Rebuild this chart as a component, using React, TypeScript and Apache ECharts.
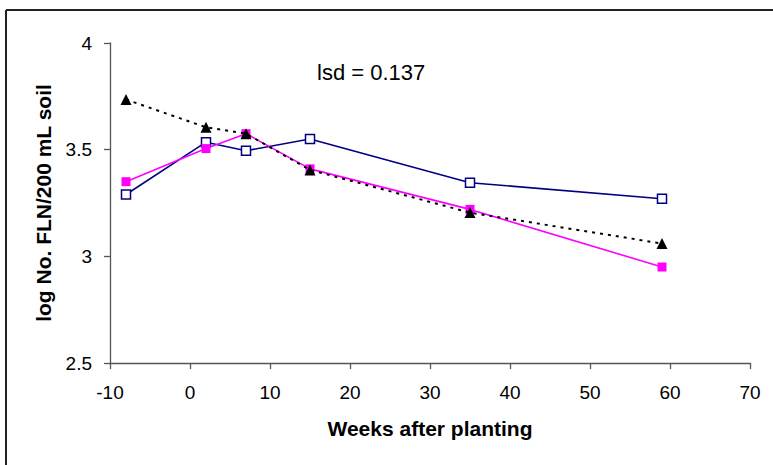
import React, { useEffect, useRef } from "react";
import * as echarts from "echarts";

// Weeks after planting (x) and log counts per 200 mL soil for each treatment
const weeks = [-8, 2, 7, 15, 35, 59];
const navySeries = [3.29, 3.535, 3.495, 3.55, 3.345, 3.27];
const magentaSeries = [3.35, 3.505, 3.575, 3.41, 3.22, 2.95];
const blackSeries = [3.735, 3.605, 3.575, 3.405, 3.205, 3.06];

const xTicks = { min: -10, max: 70, interval: 10 };
const yTicks = { min: 2.5, max: 4, interval: 0.5 };

const lsdLabel = "lsd = 0.137";
const xTitle = "Weeks after planting";
const yTitle = "log No. FLN/200 mL soil";

const FONT = "'Liberation Sans', Arial, sans-serif";

const pairs = (ys: number[]) => weeks.map((w, i) => [w, ys[i]]);

export default function App() {
  const ref = useRef<HTMLDivElement>(null);

  useEffect(() => {
    if (!ref.current) return;
    const chart = echarts.init(ref.current, undefined, { renderer: "svg" });
    const axisColor = "#555";
    chart.setOption({
      animation: false,
      backgroundColor: "#fff",
      textStyle: { fontFamily: FONT },
      grid: { left: 110, right: 23, top: 43, bottom: 102 },
      xAxis: {
        type: "value",
        min: xTicks.min,
        max: xTicks.max,
        interval: xTicks.interval,
        name: xTitle,
        nameLocation: "middle",
        nameGap: 55,
        nameTextStyle: { fontSize: 21, fontWeight: "bold", color: "#000", fontFamily: FONT },
        axisLine: { onZero: false, lineStyle: { color: axisColor, width: 1.3 } },
        axisTick: { show: true, inside: false, length: 6, lineStyle: { color: axisColor, width: 1.3 } },
        axisLabel: { fontSize: 19, color: "#000", margin: 20, fontFamily: FONT },
        splitLine: { show: false },
      },
      yAxis: {
        type: "value",
        min: yTicks.min,
        max: yTicks.max,
        interval: yTicks.interval,
        name: yTitle,
        nameLocation: "middle",
        nameGap: 56,
        nameTextStyle: { fontSize: 21, fontWeight: "bold", color: "#000", fontFamily: FONT },
        axisLine: { show: true, onZero: false, lineStyle: { color: axisColor, width: 1.3 } },
        axisTick: { show: true, inside: false, length: 6, lineStyle: { color: axisColor, width: 1.3 } },
        axisLabel: { fontSize: 19, color: "#000", margin: 18, fontFamily: FONT },
        splitLine: { show: false },
      },
      graphic: [
        {
          type: "line",
          shape: { x1: 6, y1: 10, x2: 773, y2: 10 },
          style: { stroke: "#222", lineWidth: 2 },
        },
        {
          type: "line",
          shape: { x1: 6, y1: 10, x2: 6, y2: 465 },
          style: { stroke: "#222", lineWidth: 2 },
        },
        {
          type: "text",
          x: 317,
          y: 72,
          style: {
            text: lsdLabel,
            fontSize: 22,
            fontFamily: FONT,
            fill: "#000",
            verticalAlign: "middle",
            align: "left",
          },
        },
      ],
      series: [
        {
          type: "line",
          data: pairs(navySeries),
          symbol: "rect",
          symbolSize: 9,
          lineStyle: { color: "#000080", width: 1.6 },
          itemStyle: { color: "#fff", borderColor: "#000080", borderWidth: 1.5 },
          z: 2,
        },
        {
          type: "line",
          data: pairs(magentaSeries),
          symbol: "rect",
          symbolSize: 9,
          lineStyle: { color: "#ff00ff", width: 1.6 },
          itemStyle: { color: "#ff00ff", borderColor: "#ff00ff", borderWidth: 0 },
          z: 3,
        },
        {
          type: "line",
          data: pairs(blackSeries),
          symbol: "triangle",
          symbolSize: 11,
          lineStyle: { color: "#000", width: 2, type: [3, 5] },
          itemStyle: { color: "#000", borderWidth: 0 },
          z: 4,
        },
      ],
    });
    return () => chart.dispose();
  }, []);

  return (
    <div
      ref={ref}
      style={{ position: "fixed", left: 0, top: 0, width: 773, height: 465 }}
    />
  );
}
